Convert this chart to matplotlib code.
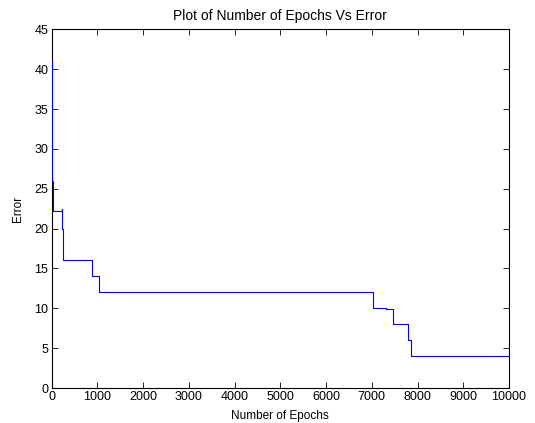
import matplotlib
matplotlib.use('Agg')
import matplotlib.pyplot as plt

# epochs where the error changes, and the error from that epoch on
epochs = [0, 1, 18, 215, 225, 250, 890, 1030, 7030, 7320, 7460, 7800, 7850, 10000]
errors = [41, 26, 22.2, 22.4, 20, 16, 14, 12, 10.1, 9.9, 8, 6, 4, 4]

xticks = list(range(0, 10001, 1000))
yticks = list(range(0, 46, 5))

plt.rcParams['font.family'] = ['Liberation Sans', 'DejaVu Sans']
plt.rcParams['font.size'] = 9

fig = plt.figure(figsize=(5.35, 4.23), dpi=100)
ax = fig.add_axes([0.0966, 0.0827, 0.8548, 0.848])

ax.step(epochs, errors, where='post', color='blue', linewidth=0.8, zorder=3)

ax.set_xlim(0, 10000)
ax.set_ylim(0, 45)
ax.set_xticks(xticks)
ax.set_yticks(yticks)
ax.tick_params(direction='in', top=True, right=True, length=4, width=0.6, labelsize=9, pad=2.5)
for s in ax.spines.values():
    s.set_linewidth(0.8)

ax.set_title('Plot of Number of Epochs Vs Error', fontsize=10, pad=7)
ax.set_xlabel('Number of Epochs', fontsize=8.5, labelpad=5)
ax.set_ylabel('Error', fontsize=8.5, labelpad=7)

fig.savefig('out.png', dpi=100, facecolor='white')
